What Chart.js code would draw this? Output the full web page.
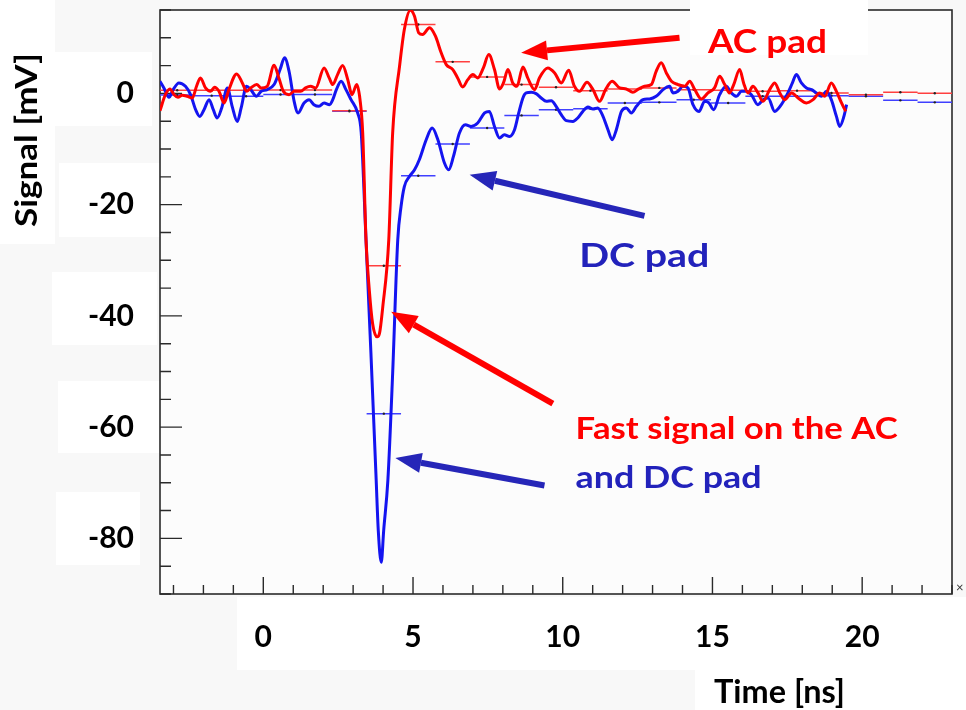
<!DOCTYPE html>
<html>
<head>
<meta charset="utf-8">
<script src="https://cdn.jsdelivr.net/npm/chart.js@4.4.1/dist/chart.umd.min.js"></script>
<style>
  html, body { margin: 0; padding: 0; background: #f8f8f8; }
  canvas { display: block; }
</style>
</head>
<body>
<canvas id="chart" width="966" height="710"></canvas>
<script>
// AC pad waveform (red), time in ns, signal in mV
const acTime = [-3.45, -3.27, -3.12, -2.98, -2.85, -2.71, -2.54, -2.37, -2.23, -2.10, -1.93, -1.76, -1.63, -1.48, -1.31, -1.15, -0.89, -0.70, -0.56, -0.42, -0.22, -0.07, 0.13, 0.36, 0.52, 0.67, 0.86, 1.03, 1.25, 1.41, 1.58, 1.75, 2.03, 2.20, 2.32, 2.48, 2.65, 2.82, 2.96, 3.12, 3.23, 3.32, 3.43, 3.54, 3.65, 3.80, 3.88, 3.99, 4.19, 4.32, 4.55, 4.71, 4.91, 5.05, 5.19, 5.32, 5.55, 5.75, 5.94, 6.11, 6.33, 6.49, 6.66, 6.83, 7.00, 7.16, 7.35, 7.53, 7.72, 7.89, 8.02, 8.17, 8.33, 8.47, 8.67, 8.83, 9.06, 9.22, 9.50, 9.73, 9.95, 10.20, 10.39, 10.56, 10.81, 11.01, 11.23, 11.43, 11.65, 11.90, 12.12, 12.34, 12.54, 12.73, 12.96, 13.12, 13.29, 13.46, 13.63, 13.85, 14.07, 14.24, 14.41, 14.63, 14.85, 15.07, 15.24, 15.41, 15.57, 15.71, 15.91, 16.04, 16.19, 16.35, 16.52, 16.69, 16.91, 17.08, 17.25, 17.41, 17.64, 17.86, 18.14, 18.36, 18.58, 18.75, 18.97, 19.14, 19.31, 19.45];
const acSignal = [-3.10, -0.22, 0.81, -0.22, -0.70, -0.34, -0.52, -0.81, 1.28, 2.79, 0.99, 0.38, 1.10, 0.38, -1.71, 0.68, 3.51, 1.89, 0.38, 0.99, 1.59, 0.99, 1.28, 5.06, 2.79, 0.38, -0.22, 0.38, 0.38, 0.99, 1.28, 0.99, 4.59, 2.79, 1.59, 3.39, 5.01, 2.49, -0.22, 1.59, -1.12, -7.12, -26.34, -35.35, -41.35, -43.77, -43.15, -38.36, -26.34, -7.12, 4.88, 11.50, 14.97, 13.89, 10.90, 10.59, 11.80, 10.29, 7.30, 5.19, 4.29, 2.79, 1.17, 2.49, 3.39, 2.79, 4.59, 6.99, 4.29, 0.81, 1.89, 4.29, 1.89, 1.28, 4.77, 2.79, 0.68, 2.79, 4.59, 3.69, 1.89, 4.16, 1.28, 0.38, 2.00, 0.68, -1.42, 0.68, 2.18, 0.99, 0.81, 0.20, 0.81, 1.28, 1.59, 3.98, 5.50, 3.69, 2.18, 1.59, 1.28, 2.18, 0.68, -0.99, 0.09, 0.99, 3.08, 1.59, 0.09, 1.59, 4.29, 1.89, 0.09, 1.28, 0.09, -1.42, 0.68, 1.89, 0.09, -1.12, 0.09, -0.81, -1.71, -1.12, 0.09, -0.52, 1.89, 0.38, -1.71, -3.23];

// DC pad waveform (blue)
const dcTime = [-3.45, -3.32, -3.15, -3.01, -2.82, -2.60, -2.43, -2.26, -2.12, -1.98, -1.81, -1.67, -1.54, -1.39, -1.20, -1.04, -0.87, -0.74, -0.56, -0.42, -0.23, -0.07, 0.13, 0.36, 0.56, 0.71, 0.86, 1.03, 1.16, 1.36, 1.53, 1.69, 1.86, 2.03, 2.21, 2.32, 2.44, 2.60, 2.76, 2.93, 3.15, 3.27, 3.43, 3.59, 3.77, 3.84, 3.94, 4.02, 4.16, 4.32, 4.49, 4.60, 4.71, 4.88, 5.05, 5.21, 5.44, 5.64, 5.83, 6.05, 6.19, 6.35, 6.55, 6.75, 6.94, 7.16, 7.39, 7.55, 7.72, 7.89, 8.05, 8.22, 8.39, 8.53, 8.67, 8.78, 8.95, 9.11, 9.28, 9.45, 9.62, 9.78, 9.95, 10.12, 10.34, 10.50, 10.67, 10.84, 11.01, 11.17, 11.32, 11.51, 11.65, 11.79, 11.96, 12.12, 12.29, 12.46, 12.68, 12.90, 13.12, 13.35, 13.57, 13.68, 13.85, 14.01, 14.18, 14.35, 14.55, 14.74, 14.88, 15.04, 15.24, 15.46, 15.63, 15.80, 15.97, 16.13, 16.30, 16.52, 16.69, 16.86, 17.08, 17.30, 17.52, 17.67, 17.80, 17.97, 18.14, 18.31, 18.47, 18.64, 18.81, 18.97, 19.14, 19.25, 19.39, 19.48];
const dcSignal = [2.18, 0.99, -0.70, 0.68, 1.89, 1.28, -0.22, -2.92, -4.13, -2.92, -1.12, -2.92, -4.41, -2.61, 0.99, -2.32, -5.03, -2.61, 1.28, 0.68, -0.52, 0.38, 0.68, 1.59, 4.29, 6.40, 3.98, -1.42, -3.51, -1.71, -1.12, -2.02, -2.32, -1.71, -2.02, -1.12, 0.68, 2.18, 0.68, -1.12, -3.51, -7.06, -26.34, -46.16, -69.58, -78.59, -84.30, -78.59, -69.58, -50.31, -26.34, -20.34, -16.74, -14.94, -13.73, -11.93, -8.32, -6.22, -8.32, -12.52, -13.73, -11.33, -7.12, -5.62, -5.93, -5.32, -3.51, -3.23, -5.93, -8.02, -7.42, -7.73, -6.52, -3.51, -0.81, 0.09, 0.20, -0.04, -0.81, -1.42, -1.30, -2.32, -3.82, -4.90, -5.03, -4.41, -3.23, -2.43, -2.79, -2.61, -3.82, -6.52, -8.32, -6.52, -3.23, -2.61, -3.51, -2.32, -1.12, -0.99, -0.52, 0.68, 1.28, 0.09, 0.38, 1.28, 0.99, -2.02, -3.23, -1.42, -1.71, -2.92, -0.22, 1.28, 0.09, -0.52, 0.38, 0.38, -0.22, -2.02, -1.12, -0.81, -3.23, -2.02, 0.09, 1.89, 3.39, 1.89, 0.99, 0.68, 0.09, -0.52, 0.38, -1.12, -4.13, -5.93, -4.13, -2.02];

// binned averages (histogram with x error bars)
const binEdges = [-3.45, -2.30, -1.15, 0, 1.15, 2.30, 3.45, 4.60, 5.75, 6.90, 8.05, 9.20, 10.35, 11.50, 12.65, 13.80, 14.95, 16.10, 17.25, 18.40, 19.55, 20.70, 21.85, 23.00];
const acBins = [0.56, 0.56, 0.56, 0.60, 0.60, -3.10, -30.97, 12.40, 5.68, 2.97, 1.59, 1.10, 0.50, 0.81, 0.99, 0.68, 0.56, 0.38, 0.50, 0.09, -0.22, 0.20, 0.02];
const dcBins = [-0.30, -0.40, -0.50, -0.20, -0.20, -3.20, -57.57, -14.81, -9.10, -6.22, -3.95, -2.92, -2.74, -1.71, -1.60, -1.12, -1.71, -0.52, -0.52, -0.40, -0.52, -1.24, -1.60];

// axes
const xMin = -3.45, xMax = 23.0;
const yMin = -90, yMax = 15;

const FONT = 'Lato, "Open Sans", sans-serif';
const RED = '#ff0000';
const BLUE = '#1414f0';
const ARROW_BLUE = '#2626b8';

// annotations in data units
const notes = [
    { text: 'AC pad', x: 14.85, y: 7.35, w: 119, size: 33, color: RED },
    { text: 'DC pad', x: 10.55, y: -31.2, w: 130, size: 32, color: '#2222bb' },
    { text: 'Fast signal on the AC', x: 10.43, y: -62.2, w: 322, size: 31, color: RED },
    { text: 'and DC pad', x: 10.43, y: -71.0, w: 186, size: 31, color: '#2222bb' }
];
const arrows = [
    { from: [13.90, 10.0], to: [8.61, 7.30], color: RED },
    { from: [12.73, -22.02], to: [6.89, -14.63], color: ARROW_BLUE },
    { from: [9.67, -55.77], to: [4.27, -39.26], color: RED },
    { from: [9.39, -70.49], to: [4.41, -65.57], color: ARROW_BLUE }
];

function toPoints(xs, ys) {
    return xs.map((t, i) => ({ x: t, y: ys[i] }));
}

function binSegments(values) {
    const pts = [];
    values.forEach((v, i) => {
        const lo = binEdges[i], hi = binEdges[i + 1];
        pts.push({ x: lo, y: v }, { x: (lo + hi) / 2, y: v, mid: true }, { x: hi, y: v }, { x: hi, y: null });
    });
    return pts;
}

// text squeezed/stretched to a given width
function fitText(ctx, text, x, y, width, size, color) {
    ctx.save();
    ctx.font = 'bold ' + size + 'px ' + FONT;
    ctx.fillStyle = color;
    ctx.textBaseline = 'alphabetic';
    ctx.textAlign = 'left';
    const w = ctx.measureText(text).width;
    ctx.translate(x, y);
    ctx.scale(width / w, 1);
    ctx.fillText(text, 0, 0);
    ctx.restore();
}

function drawArrow(ctx, x1, y1, x2, y2, color) {
    const ang = Math.atan2(y2 - y1, x2 - x1);
    const headLen = 26, headW = 10;
    const bx = x2 - headLen * Math.cos(ang), by = y2 - headLen * Math.sin(ang);
    ctx.save();
    ctx.strokeStyle = color;
    ctx.fillStyle = color;
    ctx.lineWidth = 6;
    ctx.beginPath();
    ctx.moveTo(x1, y1);
    ctx.lineTo(bx, by);
    ctx.stroke();
    ctx.beginPath();
    ctx.moveTo(x2, y2);
    ctx.lineTo(bx + headW * Math.sin(ang), by - headW * Math.cos(ang));
    ctx.lineTo(bx - headW * Math.sin(ang), by + headW * Math.cos(ang));
    ctx.closePath();
    ctx.fill();
    ctx.restore();
}

// white label boxes of the slide and the plot frame with inward ticks
const framePlugin = {
    id: 'frame',
    beforeDraw(chart) {
        const ctx = chart.ctx;
        const a = chart.chartArea;
        ctx.save();
        ctx.fillStyle = '#ffffff';
        [[0, 0, 55, 244], [55, 52, 97, 74], [59, 163, 101, 74], [52, 272, 105, 73],
         [58, 381, 102, 72], [56, 492, 84, 73], [237, 597, 729, 73], [695, 670, 271, 40]]
            .forEach(b => ctx.fillRect(b[0], b[1], b[2], b[3]));
        ctx.fillStyle = '#fcfcfc';
        ctx.fillRect(a.left, a.top, a.right - a.left, a.bottom - a.top);
        ctx.restore();
    },
    beforeDatasetsDraw(chart) {
        const ctx = chart.ctx;
        const a = chart.chartArea;
        const xs = chart.scales.x, ys = chart.scales.y;
        ctx.save();
        ctx.strokeStyle = '#2a2a2a';
        ctx.lineWidth = 1.6;
        ctx.strokeRect(a.left, a.top, a.right - a.left, a.bottom - a.top);
        ctx.lineWidth = 1.4;
        ctx.beginPath();
        ys.ticks.forEach(t => {
            const py = ys.getPixelForValue(t.value);
            const len = t.value % 20 === 0 ? 22 : 11;
            ctx.moveTo(a.left, py);
            ctx.lineTo(a.left + len, py);
        });
        xs.ticks.forEach(t => {
            const px = xs.getPixelForValue(t.value);
            const len = t.value % 5 === 0 ? 17 : 9;
            ctx.moveTo(px, a.bottom);
            ctx.lineTo(px, a.bottom - len);
        });
        ctx.stroke();
        // the "AC pad" label box hides part of the top frame line
        ctx.fillStyle = '#ffffff';
        ctx.fillRect(690, 0, 178, 55);
        ctx.restore();
    },
    afterDatasetsDraw(chart) {
        const ctx = chart.ctx;
        const xs = chart.scales.x, ys = chart.scales.y;
        arrows.forEach(ar => {
            drawArrow(ctx, xs.getPixelForValue(ar.from[0]), ys.getPixelForValue(ar.from[1]),
                xs.getPixelForValue(ar.to[0]), ys.getPixelForValue(ar.to[1]), ar.color);
        });
        notes.forEach(n => {
            fitText(ctx, n.text, xs.getPixelForValue(n.x), ys.getPixelForValue(n.y), n.w, n.size, n.color);
        });
        // axis titles
        fitText(ctx, 'Time [ns]', 714, 703, 131, 33, '#000');
        ctx.save();
        ctx.translate(37, 227);
        ctx.rotate(-Math.PI / 2);
        fitText(ctx, 'Signal [mV]', 0, 0, 174, 31, '#000');
        ctx.restore();
        ctx.save();
        ctx.font = '13px ' + FONT;
        ctx.fillStyle = '#333';
        ctx.fillText('\u00d7', 956, 592);
        ctx.restore();
    }
};

new Chart(document.getElementById('chart'), {
    type: 'line',
    data: {
        datasets: [
            {
                label: 'AC pad', data: toPoints(acTime, acSignal), borderColor: RED, borderWidth: 3,
                pointRadius: 0, cubicInterpolationMode: 'monotone', order: 1
            },
            {
                label: 'DC pad', data: toPoints(dcTime, dcSignal), borderColor: BLUE, borderWidth: 3,
                pointRadius: 0, cubicInterpolationMode: 'monotone', order: 2
            },
            {
                label: 'AC bins', data: binSegments(acBins), borderColor: '#ff4040', borderWidth: 1.5,
                pointRadius: c => (c.raw && c.raw.mid ? 1.2 : 0), pointBackgroundColor: '#222',
                pointBorderWidth: 0, spanGaps: false, order: 3
            },
            {
                label: 'DC bins', data: binSegments(dcBins), borderColor: '#4040ff', borderWidth: 1.5,
                pointRadius: c => (c.raw && c.raw.mid ? 1.2 : 0), pointBackgroundColor: '#222',
                pointBorderWidth: 0, spanGaps: false, order: 4
            }
        ]
    },
    options: {
        responsive: false,
        animation: false,
        layout: { padding: { top: 10, right: 14, left: 0, bottom: 0 } },
        plugins: { legend: { display: false }, tooltip: { enabled: false } },
        scales: {
            x: {
                type: 'linear', min: xMin, max: xMax,
                grid: { display: false }, border: { display: false },
                ticks: {
                    stepSize: 1, includeBounds: false, autoSkip: false, maxRotation: 0, padding: 17,
                    color: '#000', font: { family: FONT, size: 30, weight: 'bold' },
                    callback: v => (v % 5 === 0 ? String(v) : '')
                },
                afterFit: s => { s.height = 116; s.paddingLeft = 0; s.paddingRight = 0; }
            },
            y: {
                type: 'linear', min: yMin, max: yMax,
                grid: { display: false }, border: { display: false },
                ticks: {
                    stepSize: 5, autoSkip: false, padding: 18,
                    color: '#000', font: { family: FONT, size: 30, weight: 'bold' },
                    callback: v => (v % 20 === 0 ? String(v) : '')
                },
                afterFit: s => { s.width = 160; s.paddingTop = 0; s.paddingBottom = 0; }
            }
        }
    },
    plugins: [framePlugin]
});
</script>
</body>
</html>
